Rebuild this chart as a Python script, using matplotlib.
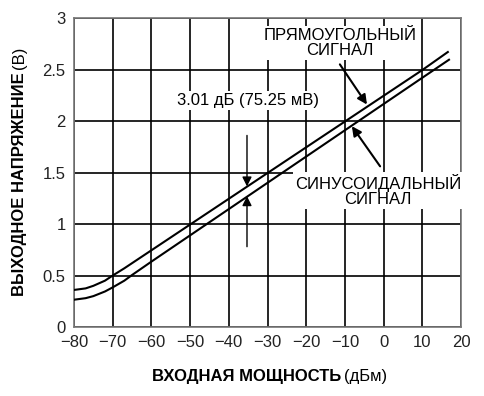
import matplotlib.pyplot as plt

plt.rcParams['font.family'] = ['Liberation Sans', 'DejaVu Sans']

# values
x_square = [-80, -77, -75, -72, -70, -67, -65, -60, -50, -40, -30, -20, -10, 0, 10, 16.6]
y_square = [0.36, 0.375, 0.40, 0.45, 0.50, 0.57, 0.62, 0.745, 0.995, 1.245, 1.495, 1.745, 1.995, 2.245, 2.495, 2.67]
x_sine = [-80, -77, -75, -72, -70, -67, -65, -60, -50, -40, -30, -20, -10, 0, 10, 16.9]
y_sine = [0.265, 0.28, 0.30, 0.345, 0.385, 0.45, 0.505, 0.635, 0.89, 1.145, 1.4, 1.655, 1.91, 2.165, 2.42, 2.595]

x_ticks = [-80, -70, -60, -50, -40, -30, -20, -10, 0, 10, 20]
y_ticks = [0, 0.5, 1, 1.5, 2, 2.5, 3]
y_tick_labels = ['0', '0.5', '1', '1.5', '2', '2.5', '3']

fig = plt.figure(figsize=(4.85, 3.96), dpi=100)
ax = fig.add_axes([0.1526, 0.1742, 0.7979, 0.7803])

ax.plot(x_square, y_square, color='black', lw=1.5, zorder=3)
ax.plot(x_sine, y_sine, color='black', lw=1.5, zorder=3)

ax.set_xlim(-80, 20)
ax.set_ylim(0, 3)
ax.set_xticks(x_ticks)
ax.set_yticks(y_ticks)
ax.set_yticklabels(y_tick_labels)
ax.tick_params(length=0, labelsize=12, colors='#222222', pad=6)
ax.grid(True, color='black', lw=1.2)
for s in ax.spines.values():
    s.set_color('#777777')
    s.set_linewidth(1.2)

box = dict(facecolor='white', edgecolor='none', pad=1.5)

# 3 dB spacing marker
ax.text(-35, 2.2, '3.01 дБ (75.25 мВ)', ha='center', va='center', fontsize=12,
        bbox=box, zorder=4)
ax.annotate('', xy=(-35.3, 1.365), xytext=(-35.3, 1.86),
            arrowprops=dict(arrowstyle='-|>', color='black', lw=1, mutation_scale=14,
                            shrinkA=0, shrinkB=0), zorder=4)
ax.annotate('', xy=(-35.3, 1.27), xytext=(-35.3, 0.78),
            arrowprops=dict(arrowstyle='-|>', color='black', lw=1, mutation_scale=14,
                            shrinkA=0, shrinkB=0), zorder=4)

ax.text(-11.3, 2.76, 'ПРЯМОУГОЛЬНЫЙ\nСИГНАЛ', ha='center', va='center', fontsize=12,
        linespacing=1.0, bbox=box, zorder=4)
ax.annotate('', xy=(-4.3, 2.16), xytext=(-11.3, 2.55),
            arrowprops=dict(arrowstyle='-|>', color='black', lw=1.5, mutation_scale=14,
                            shrinkA=0, shrinkB=0), zorder=4)

ax.text(-1.4, 1.33, 'СИНУСОИДАЛЬНЫЙ\nСИГНАЛ', ha='center', va='center', fontsize=12,
        linespacing=1.0, bbox=box, zorder=4)
ax.annotate('', xy=(-8.2, 1.95), xytext=(-0.9, 1.56),
            arrowprops=dict(arrowstyle='-|>', color='black', lw=1.5, mutation_scale=14,
                            shrinkA=0, shrinkB=0), zorder=4)

# axis titles: bold part + regular unit
fig.text(341 / 485, 1 - 377 / 396, 'ВХОДНАЯ МОЩНОСТЬ', ha='right', va='center',
         fontsize=12, fontweight='bold')
fig.text(344 / 485, 1 - 377 / 396, '(дБм)', ha='left', va='center', fontsize=12)
fig.text(20 / 485, 1 - 72 / 396, 'ВЫХОДНОЕ НАПРЯЖЕНИЕ', ha='center', va='top',
         rotation=90, fontsize=12, fontweight='bold')
fig.text(20 / 485, 1 - 69 / 396, '(В)', ha='center', va='bottom', rotation=90, fontsize=12)

fig.savefig('out.png', dpi=100)
